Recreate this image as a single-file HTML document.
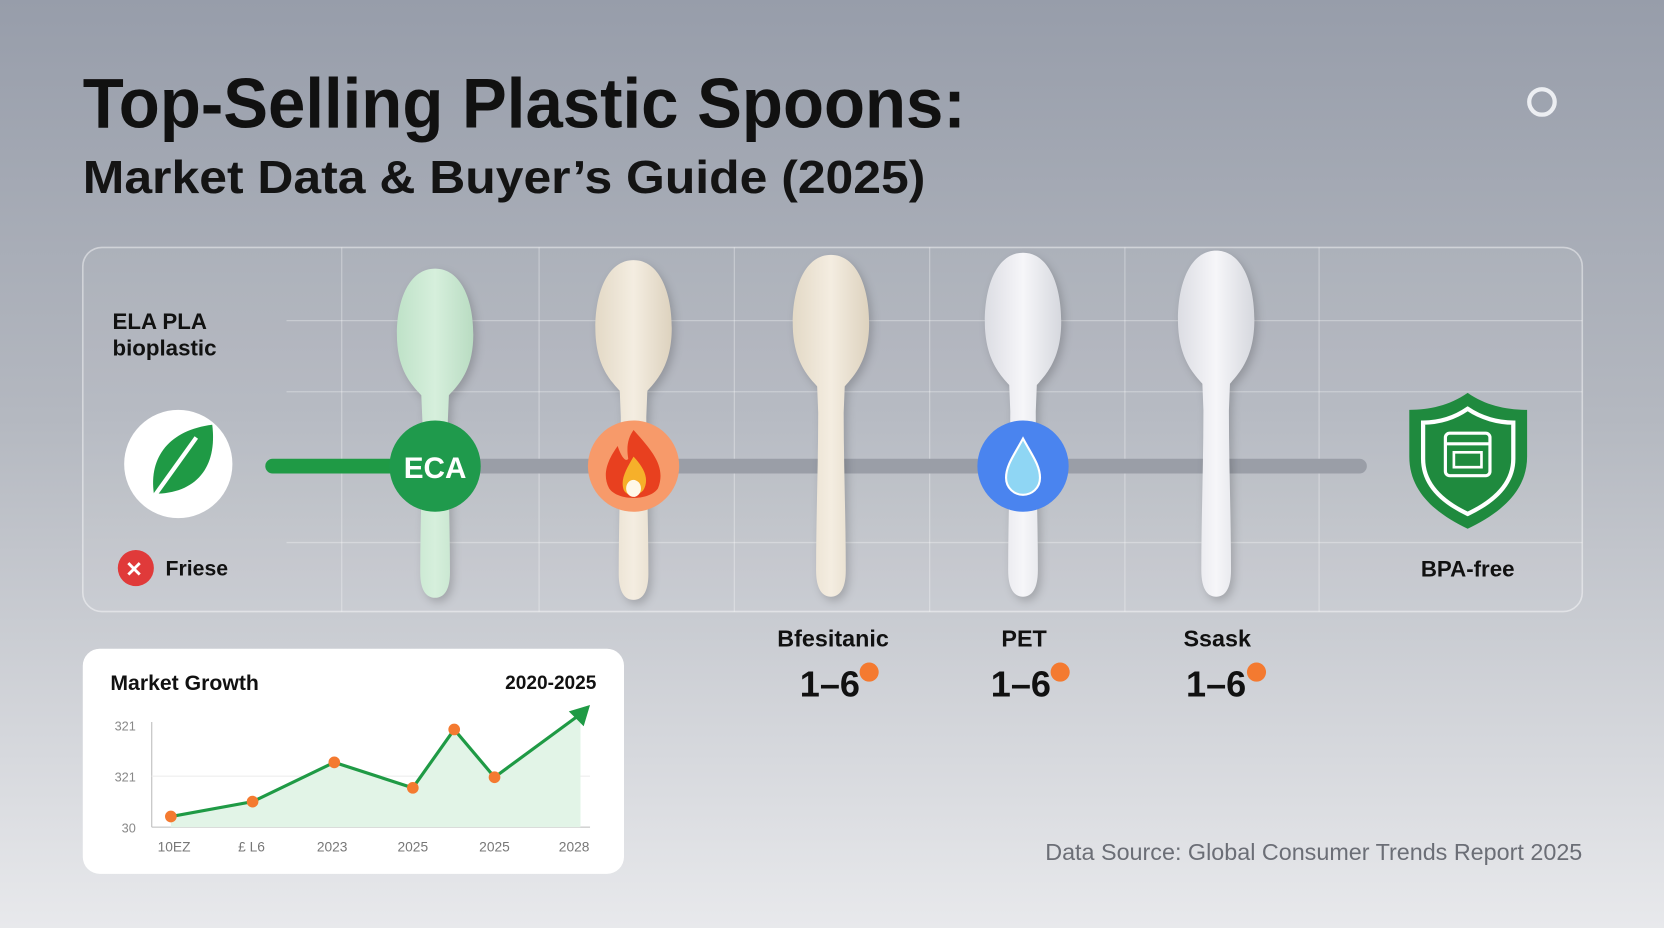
<!DOCTYPE html>
<html><head><meta charset="utf-8"><style>
html,body{margin:0;padding:0;width:1664px;height:928px;overflow:hidden}
svg{display:block}
text{font-family:"Liberation Sans",sans-serif}
</style></head><body>
<svg width="1664" height="928" viewBox="0 0 1568 874" preserveAspectRatio="none" xmlns="http://www.w3.org/2000/svg">
<defs>
<linearGradient id="bg" x1="0" y1="0" x2="0" y2="1">
<stop offset="0" stop-color="#979daa"/><stop offset="0.45" stop-color="#b4b8c0"/><stop offset="1" stop-color="#e8e9ec"/>
</linearGradient>
<linearGradient id="gs" x1="0" y1="0" x2="1" y2="0"><stop offset="0" stop-color="#bfe2c8"/><stop offset="0.5" stop-color="#d6efdc"/><stop offset="1" stop-color="#b9dcc2"/></linearGradient>
<linearGradient id="cs" x1="0" y1="0" x2="1" y2="0"><stop offset="0" stop-color="#e3d9c6"/><stop offset="0.5" stop-color="#f4ede1"/><stop offset="1" stop-color="#ddd2be"/></linearGradient>
<linearGradient id="ws" x1="0" y1="0" x2="1" y2="0"><stop offset="0" stop-color="#dcdde3"/><stop offset="0.5" stop-color="#f6f6f9"/><stop offset="1" stop-color="#d6d8de"/></linearGradient>
<symbol id="spoon" viewBox="-40 0 80 325" preserveAspectRatio="none" overflow="visible">
<path d="M0,0 C24,0 36,30 36,65 C36,100 22,115 13,125 L12,150 C12,200 14,250 14,300 C14,318 8,325 0,325 C-8,325 -14,318 -14,300 C-14,250 -12,200 -12,150 L-13,125 C-22,115 -36,100 -36,65 C-36,30 -24,0 0,0Z"/>
</symbol>
</defs>
<rect width="1568" height="874" fill="url(#bg)"/>
<text x="78" y="120" font-size="66" font-weight="bold" fill="#111" textLength="832" lengthAdjust="spacingAndGlyphs">Top-Selling Plastic Spoons:</text>
<text x="78" y="182" font-size="44" font-weight="bold" fill="#141414" textLength="794" lengthAdjust="spacingAndGlyphs">Market Data &amp; Buyer’s Guide (2025)</text>
<circle cx="1453" cy="96" r="12" fill="none" stroke="#eceef2" stroke-width="4"/>
<rect x="78" y="233" width="1413" height="343" rx="18" fill="rgba(255,255,255,0.05)" stroke="rgba(255,255,255,0.45)" stroke-width="1.5"/>
<g stroke="rgba(255,255,255,0.3)" stroke-width="1.2">
<line x1="322" y1="233" x2="322" y2="576"/><line x1="508" y1="233" x2="508" y2="576"/><line x1="692" y1="233" x2="692" y2="576"/><line x1="876" y1="233" x2="876" y2="576"/><line x1="1060" y1="233" x2="1060" y2="576"/><line x1="1243" y1="233" x2="1243" y2="576"/>
<line x1="270" y1="302" x2="1491" y2="302"/><line x1="270" y1="369" x2="1491" y2="369"/><line x1="270" y1="511" x2="1491" y2="511"/>
</g>
<text x="106" y="310" font-size="21" font-weight="bold" fill="#111">ELA PLA</text>
<text x="106" y="335" font-size="21" font-weight="bold" fill="#111">bioplastic</text>
<circle cx="168" cy="437" r="51" fill="#fff"/>
<path d="M145,465 C140,430 160,405 200,400 C205,440 185,465 145,465Z" fill="#1f9a45"/>
<path d="M142,472 L185,412" stroke="#fff" stroke-width="4" fill="none"/>
<circle cx="128" cy="535" r="17" fill="#e03a3a"/>
<text x="118" y="543" font-size="20" font-weight="bold" fill="#fff">✕</text>
<text x="156" y="542" font-size="20" font-weight="bold" fill="#111">Friese</text>
<rect x="410" y="432" width="878" height="14" rx="7" fill="#9a9ea7"/>
<rect x="250" y="432" width="165" height="14" rx="7" fill="#1f9a45"/>
<g style="filter:drop-shadow(3px 4px 4px rgba(0,0,0,0.18))">
<use href="#spoon" x="370" y="253" width="80" height="310" fill="url(#gs)"/>
<use href="#spoon" x="557" y="245" width="80" height="320" fill="url(#cs)"/>
<use href="#spoon" x="743" y="240" width="80" height="322" fill="url(#cs)"/>
<use href="#spoon" x="924" y="238" width="80" height="324" fill="url(#ws)"/>
<use href="#spoon" x="1106" y="236" width="80" height="326" fill="url(#ws)"/>
</g>
<circle cx="410" cy="439" r="43" fill="#1f9a4c"/>
<text x="410" y="450" font-size="28" font-weight="bold" fill="#fff" text-anchor="middle">ECA</text>
<circle cx="597" cy="439" r="43" fill="#f79a6a"/>
<path d="M597,405 C615,425 628,440 620,460 C612,472 582,472 574,460 C566,445 575,430 582,420 C586,432 590,435 592,432 C590,420 592,412 597,405Z" fill="#e8401f"/>
<path d="M597,430 C608,442 612,452 606,462 C600,468 592,468 588,462 C584,452 590,442 597,430Z" fill="#f6b02a"/>
<ellipse cx="597" cy="460" rx="7" ry="8" fill="#fff8e8"/>
<circle cx="964" cy="439" r="43" fill="#4a84ef"/>
<path d="M964,413 C972,428 980,438 980,450 C980,460 972,466 964,466 C956,466 948,460 948,450 C948,438 956,428 964,413Z" fill="#8fd6f4" stroke="#fff" stroke-width="2"/>
<path d="M1383,370 C1400,382 1420,386 1439,386 L1439,430 C1439,465 1410,485 1383,498 C1356,485 1328,465 1328,430 L1328,386 C1346,386 1366,382 1383,370Z" fill="#1f8a3e"/>
<path d="M1383,385 C1396,394 1412,398 1426,398 L1426,432 C1426,458 1404,474 1383,484 C1362,474 1341,458 1341,432 L1341,398 C1355,398 1370,394 1383,385Z" fill="none" stroke="#fff" stroke-width="4"/>
<rect x="1362" y="408" width="42" height="40" rx="4" fill="none" stroke="#fff" stroke-width="3"/>
<line x1="1362" y1="418" x2="1404" y2="418" stroke="#fff" stroke-width="3"/>
<rect x="1370" y="426" width="26" height="14" fill="none" stroke="#fff" stroke-width="2.5"/>
<text x="1383" y="543" font-size="21" font-weight="bold" fill="#111" text-anchor="middle">BPA-free</text>
<g font-weight="bold" fill="#111" text-anchor="middle">
<text x="785" y="609" font-size="22">Bfesitanic</text>
<text x="965" y="609" font-size="22">PET</text>
<text x="1147" y="609" font-size="22">Ssask</text>
<text x="782" y="656" font-size="34">1–6</text>
<text x="962" y="656" font-size="34">1–6</text>
<text x="1146" y="656" font-size="34">1–6</text>
</g>
<circle cx="819" cy="633" r="9" fill="#f47a30"/><circle cx="999" cy="633" r="9" fill="#f47a30"/><circle cx="1184" cy="633" r="9" fill="#f47a30"/>
<rect x="78" y="611" width="510" height="212" rx="16" fill="#fff"/>
<text x="104" y="650" font-size="20" font-weight="bold" fill="#111">Market Growth</text>
<text x="562" y="649" font-size="18" font-weight="bold" fill="#111" text-anchor="end">2020-2025</text>
<line x1="143" y1="680" x2="143" y2="779" stroke="#bbb"/>
<line x1="143" y1="779" x2="556" y2="779" stroke="#bbb"/>
<line x1="143" y1="731" x2="556" y2="731" stroke="#eee"/>
<g font-size="12" fill="#888" text-anchor="end"><text x="128" y="688">321</text><text x="128" y="736">321</text><text x="128" y="784">30</text></g>
<g font-size="13" fill="#777" text-anchor="middle"><text x="164" y="802">10EZ</text><text x="237" y="802">£ L6</text><text x="313" y="802">2023</text><text x="389" y="802">2025</text><text x="466" y="802">2025</text><text x="541" y="802">2028</text></g>
<path d="M161,769 L238,755 L315,718 L389,742 L428,687 L466,732 L547,672 L547,779 L161,779Z" fill="#e2f4e7"/>
<polyline points="161,769 238,755 315,718 389,742 428,687 466,732 545,674" fill="none" stroke="#1f9a45" stroke-width="3"/>
<path d="M556,664 L536,670 L550,684Z" fill="#1f9a45"/>
<g fill="#f47a30"><circle cx="161" cy="769" r="5.5"/><circle cx="238" cy="755" r="5.5"/><circle cx="315" cy="718" r="5.5"/><circle cx="389" cy="742" r="5.5"/><circle cx="428" cy="687" r="5.5"/><circle cx="466" cy="732" r="5.5"/></g>
<text x="1491" y="810" font-size="22" fill="#6b6e76" text-anchor="end">Data Source: Global Consumer Trends Report 2025</text>
</svg>
</body></html>
